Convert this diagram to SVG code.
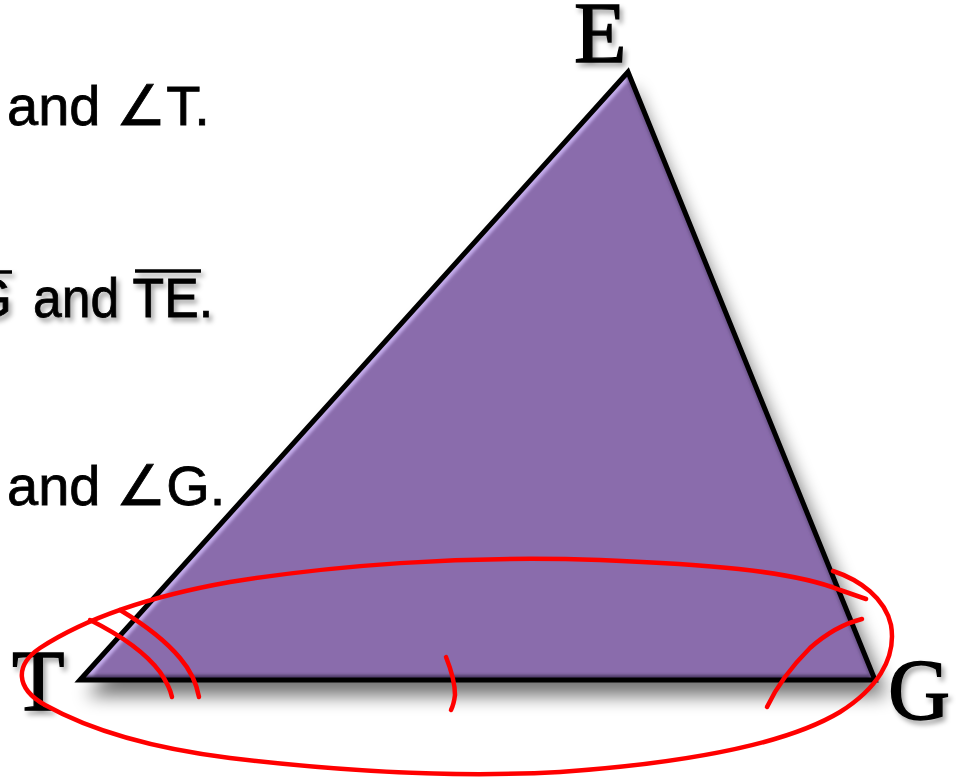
<svg xmlns="http://www.w3.org/2000/svg" width="956" height="779" viewBox="0 0 956 779">
<style>
.txt{font-family:"Liberation Sans","DejaVu Sans",sans-serif;font-size:56px;fill:#000;stroke:#000;stroke-width:0.8}
.lbl{font-family:"Liberation Serif","DejaVu Serif",serif;font-size:86px;fill:#000;stroke:#000;stroke-width:1.4}
.red{fill:none;stroke:#FF0000;stroke-width:4.5;stroke-linecap:round;stroke-linejoin:round}
</style>
<defs>
<filter id="sh" x="-20%" y="-20%" width="140%" height="150%"><feGaussianBlur stdDeviation="9"/></filter>
<filter id="ts" x="-20%" y="-20%" width="150%" height="150%"><feDropShadow dx="3" dy="4" stdDeviation="2.5" flood-color="#000" flood-opacity="0.35"/></filter>
<filter id="bv"><feGaussianBlur stdDeviation="1.5"/></filter>
<clipPath id="tri"><polygon points="80,680 628,72 875,680"/></clipPath>
</defs>
<rect width="956" height="779" fill="#fff"/>
<g id="statements">
<text class="txt" x="7" y="125">and ∠T.</text>
<g filter="url(#ts)">
<text class="txt" x="12" y="317" text-anchor="end">G</text>
<text class="txt" x="33" y="317" textLength="180" lengthAdjust="spacingAndGlyphs">and TE.</text>
<line x1="-40" y1="272" x2="12" y2="272" stroke="#000" stroke-width="3.5"/>
<line x1="135" y1="271" x2="201" y2="271" stroke="#000" stroke-width="3.5"/>
</g>
<text class="txt" x="7" y="505">and ∠G.</text>
</g>
<g id="triangle">
<polygon points="86,696 634,88 887,696" fill="#000" opacity="0.55" filter="url(#sh)"/>
<polygon points="80,680 628,72 875,680" fill="#8A6CAC"/>
<g clip-path="url(#tri)" filter="url(#bv)">
<line x1="80" y1="680" x2="628" y2="72" stroke="#C3ABEA" stroke-width="12"/>
<line x1="80" y1="680" x2="875" y2="680" stroke="#4E3A66" stroke-width="10"/>
<line x1="628" y1="72" x2="875" y2="680" stroke="#6A5288" stroke-width="8"/>
</g>
<polygon points="80,680 628,72 875,680" fill="none" stroke="#000" stroke-width="5" stroke-linejoin="miter"/>
</g>
<g id="label-E" filter="url(#ts)"><text class="lbl" x="574" y="62">E</text></g>
<g id="label-T" filter="url(#ts)"><text class="lbl" x="12" y="710">T</text></g>
<g id="label-G" filter="url(#ts)"><text class="lbl" x="888" y="719">G</text></g>
<g id="connectors">
<path class="red" d="M833,571 C860,580 885,598 891,625 C897,660 875,690 840,712 C790,742 700,762 560,772 C450,778 330,770 230,758 C150,748 90,730 45,705 C15,688 15,665 40,648 C80,622 140,598 230,582 C330,566 460,555 600,560 C700,564 790,570 840,590 L866,599"/>
<path class="red" d="M90,620 C120,635 145,652 160,672 C168,684 171,692 172,697"/>
<path class="red" d="M120,610 C145,625 165,640 180,658 C192,672 197,686 199,697"/>
<path class="red" d="M446,657 C452,672 455,685 455,695 C454,703 452,708 451,710"/>
<path class="red" d="M767,707 C775,690 790,668 810,648 C828,632 846,623 862,619"/>
</g>
</svg>
